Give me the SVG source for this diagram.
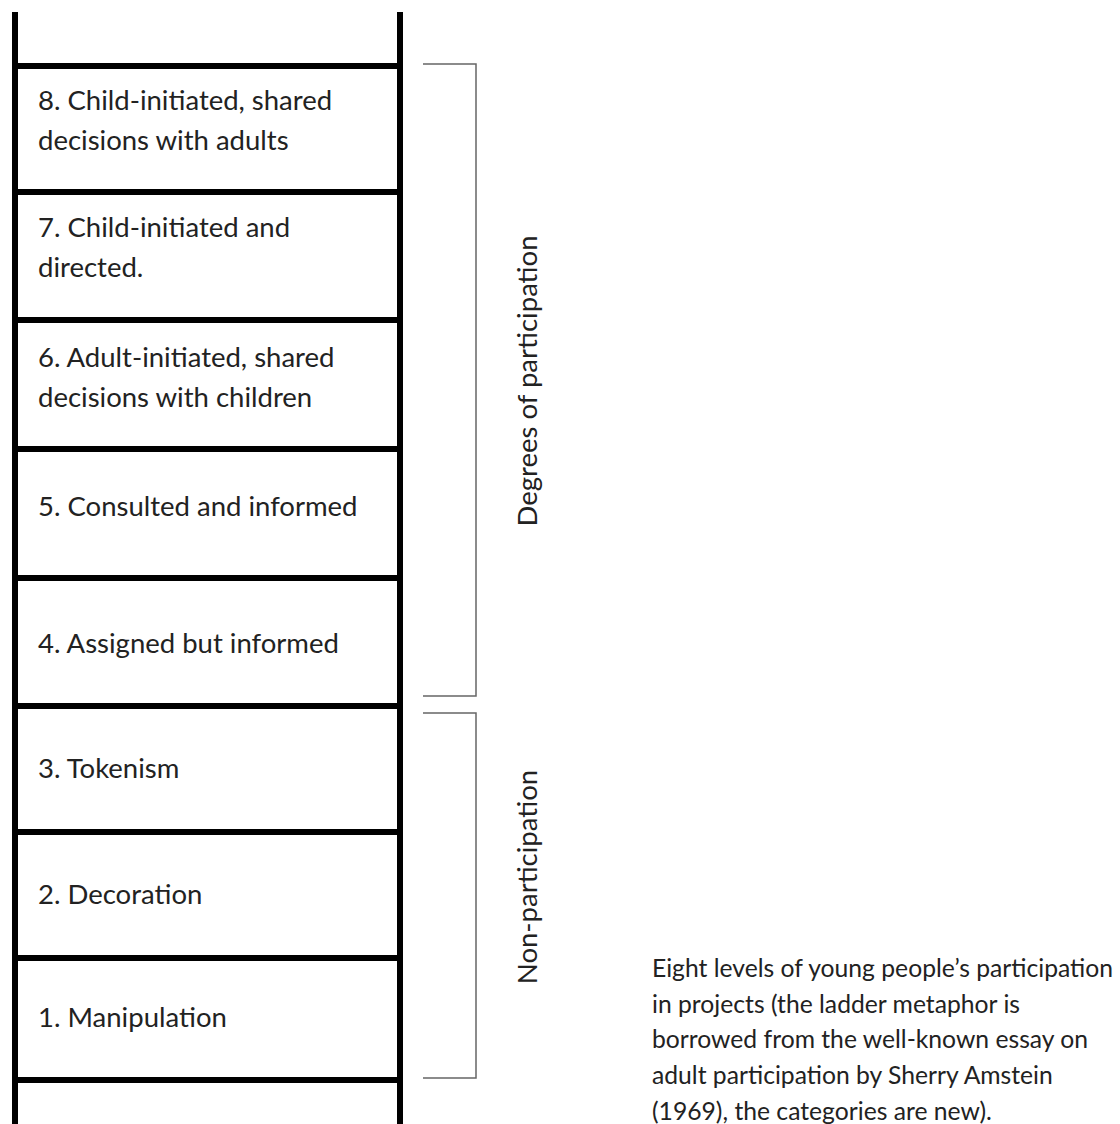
<svg xmlns="http://www.w3.org/2000/svg" width="1120" height="1124" viewBox="0 0 1120 1124">
<style>
.rail{stroke:#000;stroke-width:6;fill:none}
.rung{stroke:#000;stroke-width:6;fill:none}
.br{stroke:#666;stroke-width:1.5;fill:none}
.lbl{font-family:Lato,"Open Sans",sans-serif;font-size:27.5px;fill:#222}
.cap{font-family:Lato,"Open Sans",sans-serif;font-size:24.7px;fill:#222}
</style>
<rect width="1120" height="1124" fill="#fff"/>
<g id="ladder">
<line class="rail" x1="15" y1="12" x2="15" y2="1124"/>
<line class="rail" x1="400" y1="12" x2="400" y2="1124"/>
<line class="rung" x1="15" y1="66" x2="400" y2="66"/>
<line class="rung" x1="15" y1="192" x2="400" y2="192"/>
<line class="rung" x1="15" y1="320" x2="400" y2="320"/>
<line class="rung" x1="15" y1="449" x2="400" y2="449"/>
<line class="rung" x1="15" y1="578" x2="400" y2="578"/>
<line class="rung" x1="15" y1="706" x2="400" y2="706"/>
<line class="rung" x1="15" y1="832" x2="400" y2="832"/>
<line class="rung" x1="15" y1="958" x2="400" y2="958"/>
<line class="rung" x1="15" y1="1080" x2="400" y2="1080"/>
</g>
<g id="level8"><text class="lbl" x="38" y="110">8. Child-initiated, shared</text><text class="lbl" x="38" y="150">decisions with adults</text></g>
<g id="level7"><text class="lbl" x="38" y="237">7. Child-initiated and</text><text class="lbl" x="38" y="277">directed.</text></g>
<g id="level6"><text class="lbl" x="38" y="367">6. Adult-initiated, shared</text><text class="lbl" x="38" y="407">decisions with children</text></g>
<g id="level5"><text class="lbl" x="38" y="516">5. Consulted and informed</text></g>
<g id="level4"><text class="lbl" x="38" y="653">4. Assigned but informed</text></g>
<g id="level3"><text class="lbl" x="38" y="778">3. Tokenism</text></g>
<g id="level2"><text class="lbl" x="38" y="904">2. Decoration</text></g>
<g id="level1"><text class="lbl" x="38" y="1027">1. Manipulation</text></g>
<g id="connectors">
<path class="br" d="M423,64 H476 V696 H423"/>
<path class="br" d="M423,713 H476 V1078 H423"/>
</g>
<g id="degrees"><text class="lbl" transform="translate(537,381) rotate(-90)" text-anchor="middle">Degrees of participation</text></g>
<g id="nonparticipation"><text class="lbl" transform="translate(537,877) rotate(-90)" text-anchor="middle">Non-participation</text></g>
<g id="caption">
<text class="cap" x="652" y="977">Eight levels of young people’s participation</text>
<text class="cap" x="652" y="1013">in projects (the ladder metaphor is</text>
<text class="cap" x="652" y="1048">borrowed from the well-known essay on</text>
<text class="cap" x="652" y="1084">adult participation by Sherry Amstein</text>
<text class="cap" x="652" y="1120">(1969), the categories are new).</text>
</g>
</svg>
